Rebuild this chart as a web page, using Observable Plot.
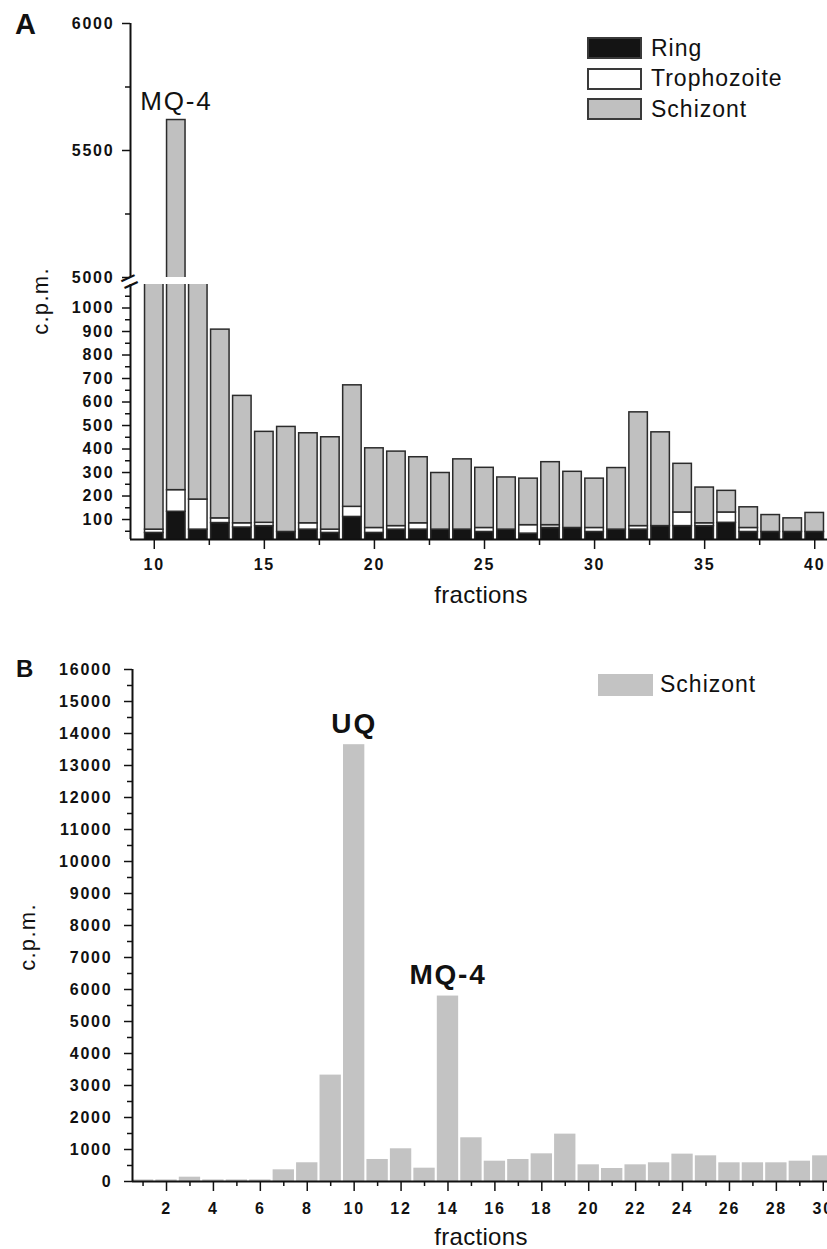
<!DOCTYPE html>
<html><head><meta charset="utf-8">
<script src="https://cdn.jsdelivr.net/npm/d3@7"></script>
<script src="https://cdn.jsdelivr.net/npm/@observablehq/plot@0.6"></script>
<style>
html,body{margin:0;padding:0;background:#fff;overflow:hidden}
#root{position:relative;width:827px;height:1249px;font-family:"Liberation Sans",Arial,sans-serif;color:#111}
#root svg{position:absolute;left:0;overflow:visible}
#root svg text{letter-spacing:1.8px}
.t{position:absolute;line-height:1;white-space:nowrap}
.sw{position:absolute;box-sizing:border-box}
</style></head><body><div id="root"></div>
<script>
// ---------- Panel A data ----------
const fractionsA = [10,11,12,13,14,15,16,17,18,19,20,21,22,23,24,25,26,27,28,29,30,31,32,33,34,35,36,37,38,39,40];
const ringA        = [43,133,57,85,66,72,47,57,43,111,43,57,57,57,57,47,57,40,64,64,47,57,57,72,72,72,86,47,47,47,47];
const trophozoiteA = [14,92,128,20,18,14,0,27,14,43,21,15,27,0,0,17,0,36,12,0,17,0,15,0,58,12,44,17,0,0,0];
const schizontA    = [2343,5395,2015,803,542,387,447,383,393,517,339,317,281,241,299,256,222,198,268,239,210,262,484,399,207,152,92,88,72,58,81];
const stagesA = ["Ring","Trophozoite","Schizont"];
const stageColorsA = ["#141414","#ffffff","#c0c0c0"];
const annotationsA = [{fraction: 11, label: "MQ-4"}];
const yTicksUpperA = [5000,5500,6000];
const yMinorUpperA = [5250,5750];
const yTicksLowerA = [100,200,300,400,500,600,700,800,900,1000];
const yMinorLowerA = [50,150,250,350,450,550,650,750,850,950,1050];
const xTicksA = [10,15,20,25,30,35,40];
const xMinorA = [12.5,17.5,22.5,27.5,32.5,37.5];
const xDomainA = [8.92, 40.58];
const yUpperDomainA = [5000, 6000];
const yLowerDomainA = [15, 1100];

// ---------- Panel B data ----------
const fractionsB = [1,2,3,4,5,6,7,8,9,10,11,12,13,14,15,16,17,18,19,20,21,22,23,24,25,26,27,28,29,30];
const schizontB  = [50,50,135,50,50,50,365,585,3325,13650,688,1022,416,5795,1366,635,688,865,1480,521,406,521,584,855,802,584,584,584,635,802];
const annotationsB = [{fraction: 10, label: "UQ"}, {fraction: 14, label: "MQ-4"}];
const yTicksB = [0,1000,2000,3000,4000,5000,6000,7000,8000,9000,10000,11000,12000,13000,14000,15000,16000];
const yMinorB = [500,1500,2500,3500,4500,5500,6500,7500,8500,9500,10500,11500,12500,13500,14500,15500];
const xTicksB = [2,4,6,8,10,12,14,16,18,20,22,24,26,28,30];
const xMinorB = [1,3,5,7,9,11,13,15,17,19,21,23,25,27,29];
const xDomainB = [0.55, 30.18];
const yDomainB = [0, 16000];

// ---------- build tables ----------
const tableA = [];
fractionsA.forEach((f, i) => {
  let base = 0;
  [ringA[i], trophozoiteA[i], schizontA[i]].forEach((v, k) => {
    tableA.push({fraction: f, stage: stagesA[k], y1: base, y2: base + v});
    base += v;
  });
});
const totalA = f => { const i = fractionsA.indexOf(f); return ringA[i] + trophozoiteA[i] + schizontA[i]; };
const annA = annotationsA.map(a => ({...a, value: totalA(a.fraction)}));
const tableB = fractionsB.map((f, i) => ({fraction: f, value: schizontB[i]}));
const annB = annotationsB.map(a => ({...a, value: schizontB[fractionsB.indexOf(a.fraction)]}));

const FONT = "bold 16px 'Liberation Sans', Arial, sans-serif";
const svgStyle = {background: "transparent", font: FONT, color: "#111", overflow: "visible"};
const fmt = d => String(d);
const halfA = 0.42, halfB = 0.455;

const barsA = () => Plot.rect(tableA, {
  x1: d => d.fraction - halfA, x2: d => d.fraction + halfA,
  y1: "y1", y2: "y2", fill: "stage", stroke: "#2b2b2b", strokeWidth: 1.5, clip: true
});

// Upper segment of panel A (5000-6000)
const upperA = Plot.plot({
  width: 827, height: 290, marginTop: 23, marginBottom: 13, marginLeft: 130, marginRight: 0,
  style: svgStyle,
  x: {domain: xDomainA, axis: null},
  y: {domain: yUpperDomainA},
  color: {domain: stagesA, range: stageColorsA},
  marks: [
    barsA(),
    Plot.ruleX([xDomainA[0]], {strokeWidth: 2}),
    Plot.axisY({ticks: yTicksUpperA, tickSize: 8, tickPadding: 8, tickFormat: fmt, label: null, strokeWidth: 1.5}),
    Plot.axisY({ticks: yMinorUpperA, tickSize: 5, tickFormat: () => "", label: null, strokeWidth: 1.5}),
    Plot.text(annA, {x: "fraction", y: "value", text: "label", lineAnchor: "bottom", dy: -10,
      fontSize: 26, fontWeight: "normal"})
  ]
});
upperA.style.top = "0px";

// Lower segment of panel A (15-1100)
const lowerA = Plot.plot({
  width: 827, height: 350, marginTop: 14, marginBottom: 81, marginLeft: 130, marginRight: 0,
  style: svgStyle,
  x: {domain: xDomainA},
  y: {domain: yLowerDomainA},
  color: {domain: stagesA, range: stageColorsA},
  marks: [
    barsA(),
    Plot.ruleX([xDomainA[0]], {strokeWidth: 2}),
    Plot.ruleY([yLowerDomainA[0]], {strokeWidth: 2}),
    Plot.axisY({ticks: yTicksLowerA, tickSize: 8, tickPadding: 8, tickFormat: fmt, label: null, strokeWidth: 1.5}),
    Plot.axisY({ticks: yMinorLowerA, tickSize: 5, tickFormat: () => "", label: null, strokeWidth: 1.5}),
    Plot.axisX({ticks: xTicksA, tickSize: 10, tickPadding: 9, tickFormat: fmt, label: null, strokeWidth: 1.5}),
    Plot.axisX({ticks: xMinorA, tickSize: 6, tickFormat: () => "", label: null, strokeWidth: 1.5}),
    Plot.text(["="], {frameAnchor: "top-left", textAnchor: "middle", lineAnchor: "middle", text: d => d,
      dx: 0, dy: -3, rotate: -25, fontSize: 30, fontWeight: "normal"})
  ]
});
lowerA.style.top = "270px";

// Panel B
const panelB = Plot.plot({
  width: 827, height: 609, marginTop: 29, marginBottom: 68, marginLeft: 132, marginRight: 0,
  style: svgStyle,
  x: {domain: xDomainB},
  y: {domain: yDomainB},
  marks: [
    Plot.rect(tableB, {x1: d => d.fraction - halfB, x2: d => d.fraction + halfB,
      y1: d => 0, y2: "value", fill: "#c3c3c3", clip: true}),
    Plot.ruleX([xDomainB[0]], {strokeWidth: 2}),
    Plot.ruleY([yDomainB[0]], {strokeWidth: 2}),
    Plot.axisY({ticks: yTicksB, tickSize: 8, tickPadding: 12, tickFormat: fmt, label: null, strokeWidth: 1.5}),
    Plot.axisY({ticks: yMinorB, tickSize: 5, tickFormat: () => "", label: null, strokeWidth: 1.5}),
    Plot.axisX({ticks: xTicksB, tickSize: 10, tickPadding: 11, tickFormat: fmt, label: null, strokeWidth: 1.5}),
    Plot.axisX({ticks: xMinorB, tickSize: 5, tickFormat: () => "", label: null, strokeWidth: 1.5}),
    Plot.text(annB, {x: "fraction", y: "value", text: "label", lineAnchor: "bottom", dy: -12,
      fontSize: 28, fontWeight: "bold"})
  ]
});
panelB.style.top = "640px";

const root = document.getElementById("root");
root.append(upperA, lowerA, panelB);

// ---------- HTML text (panel letters, axis titles, legends) ----------
function addText(text, {x, baseline, size, weight = "normal", anchor = "start", ls = 0}) {
  const el = document.createElement("div");
  el.className = "t";
  el.textContent = text;
  el.style.fontSize = size + "px";
  el.style.fontWeight = weight;
  el.style.letterSpacing = ls + "px";
  el.style.top = (baseline - 0.8465 * size) + "px";
  el.style.left = x + "px";
  if (anchor === "middle") el.style.transform = "translateX(-50%)";
  root.append(el);
}
function addRotated(text, {cx, cy, size, ls = 0}) {
  const el = document.createElement("div");
  el.className = "t";
  el.textContent = text;
  el.style.fontSize = size + "px";
  el.style.letterSpacing = ls + "px";
  el.style.left = cx + "px";
  el.style.top = cy + "px";
  el.style.transform = "translate(-50%,-50%) rotate(-90deg)";
  root.append(el);
}
function addSwatch({x, y, w, h, fill, border}) {
  const el = document.createElement("div");
  el.className = "sw";
  Object.assign(el.style, {left: x + "px", top: y + "px", width: w + "px", height: h + "px", background: fill,
    border: border ? "2px solid " + border : "none"});
  root.append(el);
}

const panelLetters = ["A", "B"];
const axisTitleX = "fractions";
const axisTitleY = "c.p.m.";

addText(panelLetters[0], {x: 15, baseline: 35, size: 29, weight: "bold"});
addText(panelLetters[1], {x: 16, baseline: 677, size: 24, weight: "bold"});
addText(axisTitleX, {x: 481, baseline: 603, size: 24, anchor: "middle", ls: 0.3});
addText(axisTitleX, {x: 481, baseline: 1245, size: 24, anchor: "middle", ls: 0.3});
addRotated(axisTitleY, {cx: 41, cy: 301, size: 22, ls: 1.3});
addRotated(axisTitleY, {cx: 28, cy: 937, size: 22, ls: 1.3});

stagesA.forEach((s, k) => {
  const top = 37 + k * 30.5;
  addSwatch({x: 587, y: top, w: 55, h: 22, fill: stageColorsA[k], border: "#3a3a3a"});
  addText(s, {x: 651, baseline: top + 19, size: 23, ls: 1});
});
addSwatch({x: 598, y: 674, w: 55, h: 22, fill: "#c3c3c3"});
addText("Schizont", {x: 660, baseline: 692, size: 23, ls: 1});
</script></body></html>
